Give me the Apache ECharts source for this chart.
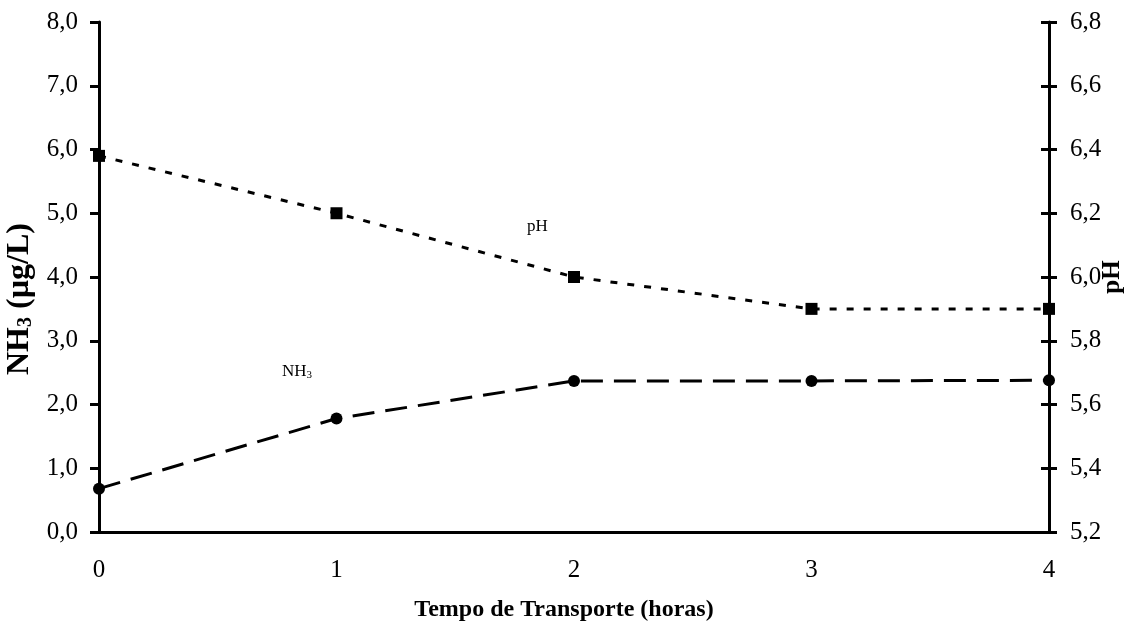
<!DOCTYPE html>
<html>
<head>
<meta charset="utf-8">
<script src="https://cdn.jsdelivr.net/npm/echarts@6/dist/echarts.min.js"></script>
<style>
  html, body { margin: 0; padding: 0; background: #fff; }
  #chart { width: 1131px; height: 630px; }
</style>
</head>
<body>
<div id="chart"></div>
<script>
// horas de transporte
var hours = [0, 1, 2, 3, 4];
var nh3Values = [0.68, 1.78, 2.37, 2.37, 2.38];
var phValues = [6.38, 6.2, 6.0, 5.9, 5.9];

var font = 'Liberation Serif';
var chart = echarts.init(document.getElementById('chart'));

var fmt = function (v) { return v.toFixed(1).replace('.', ','); };

var option = {
  animation: false,
  backgroundColor: '#fff',
  grid: { left: 99, right: 82, top: 22, bottom: 98, outerBoundsMode: 'none' },
  xAxis: {
    type: 'value',
    min: 0,
    max: 4,
    interval: 1,
    name: 'Tempo de Transporte (horas)',
    nameLocation: 'middle',
    nameGap: 66,
    nameTextStyle: { fontFamily: font, fontSize: 24, fontWeight: 'bold', color: '#000', padding: [0, 20, 0, 0] },
    axisLine: { lineStyle: { color: '#000', width: 3 } },
    axisTick: { show: false },
    axisLabel: { fontFamily: font, fontSize: 25, color: '#000', margin: 26 },
    splitLine: { show: false }
  },
  yAxis: [
    {
      type: 'value',
      min: 0,
      max: 8,
      interval: 1,
      position: 'left',
      name: '{a|NH}{b|3}{a| (µg/L)}',
      nameLocation: 'middle',
      nameGap: 62,
      nameTextStyle: {
        padding: [0, 44, 0, 0],
        rich: {
          a: { fontFamily: font, fontSize: 32, fontWeight: 'bold', color: '#000' },
          b: { fontFamily: font, fontSize: 20, fontWeight: 'bold', color: '#000', padding: [13, 0, 0, 0] }
        }
      },
      axisLine: { show: true, lineStyle: { color: '#000', width: 3 } },
      axisTick: { show: true, length: 9, lineStyle: { color: '#000', width: 3 } },
      axisLabel: { fontFamily: font, fontSize: 25, color: '#000', margin: 21, formatter: fmt },
      splitLine: { show: false }
    },
    {
      type: 'value',
      min: 5.2,
      max: 6.8,
      interval: 0.2,
      position: 'right',
      axisLine: { show: true, lineStyle: { color: '#000', width: 3 } },
      axisTick: { show: true, length: 8, lineStyle: { color: '#000', width: 3 } },
      axisLabel: { fontFamily: font, fontSize: 25, color: '#000', margin: 21, formatter: fmt },
      splitLine: { show: false }
    },
    {
      // ticks do lado interno do eixo direito
      type: 'value',
      min: 5.2,
      max: 6.8,
      interval: 0.2,
      position: 'right',
      axisLine: { show: false },
      axisTick: { show: true, inside: true, length: 8, lineStyle: { color: '#000', width: 3 } },
      axisLabel: { show: false },
      splitLine: { show: false }
    }
  ],
  series: [
    {
      name: 'NH3',
      type: 'line',
      yAxisIndex: 0,
      data: hours.map(function (h, i) { return [h, nh3Values[i]]; }),
      symbol: 'circle',
      symbolSize: 12,
      itemStyle: { color: '#000' },
      lineStyle: { color: '#000', width: 3, type: [22, 11] }
    },
    {
      name: 'pH',
      type: 'line',
      yAxisIndex: 1,
      data: hours.map(function (h, i) { return [h, phValues[i]]; }),
      symbol: 'rect',
      symbolSize: 12,
      itemStyle: { color: '#000' },
      lineStyle: { color: '#000', width: 3, type: [7, 10] }
    }
  ],
  graphic: [
    {
      // titulo do eixo direito
      type: 'text',
      x: 1113,
      y: 277,
      rotation: Math.PI / 2,
      style: {
        text: 'pH',
        font: 'bold 25px "Liberation Serif"',
        fill: '#000',
        align: 'center',
        verticalAlign: 'middle'
      }
    },
    {
      type: 'text',
      left: 527,
      top: 218,
      style: { text: 'pH', font: '17px "Liberation Serif"', fill: '#000' }
    },
    {
      type: 'text',
      left: 282,
      top: 363,
      style: {
        text: '{a|NH}{b|3}',
        rich: {
          a: { fontFamily: font, fontSize: 17, fill: '#000' },
          b: { fontFamily: font, fontSize: 11, fill: '#000', padding: [8, 0, 0, 0] }
        }
      }
    }
  ]
};

chart.setOption(option);
</script>
</body>
</html>
